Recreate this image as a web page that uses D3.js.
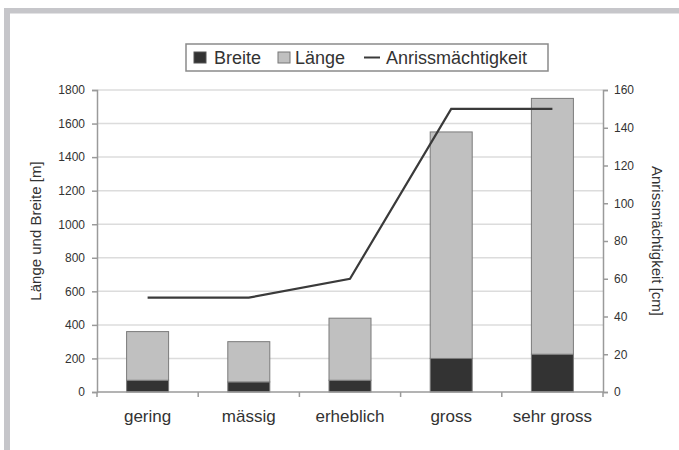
<!DOCTYPE html>
<html>
<head>
<meta charset="utf-8">
<script src="https://cdn.jsdelivr.net/npm/d3@7"></script>
<style>
  html, body { margin: 0; padding: 0; background: #fff; }
  svg { display: block; font-family: "Liberation Sans", Arial, sans-serif; }
</style>
</head>
<body>
<svg id="chart" width="679" height="450"></svg>
<script>
// Avalanche size classes
const categories = ["gering", "mässig", "erheblich", "gross", "sehr gross"];
// Stacked columns [m]: width at the bottom, length on top
const breite = [70, 60, 70, 200, 225];
const laenge = [290, 240, 370, 1350, 1525];
// Fracture depth [cm] on the right axis
const anriss = [50, 50, 60, 150, 150];
const leftTicks = [0, 200, 400, 600, 800, 1000, 1200, 1400, 1600, 1800];
const rightTicks = [0, 20, 40, 60, 80, 100, 120, 140, 160];

const svg = d3.select("#chart");
const plotLeft = 97, plotRight = 603, plotTop = 90, plotBottom = 392;

// frame along the top and left edge
svg.append("rect").attr("x", 4).attr("y", 8).attr("width", 675).attr("height", 5.5).attr("fill", "#c6c6ca");
svg.append("rect").attr("x", 4).attr("y", 8).attr("width", 6).attr("height", 442).attr("fill", "#c6c6ca");

const x = d3.scaleBand().domain(categories).range([plotLeft, plotRight]);
const yL = d3.scaleLinear().domain([0, 1800]).range([plotBottom, plotTop]);
const yR = d3.scaleLinear().domain([0, 160]).range([plotBottom, plotTop]);

// horizontal gridlines
svg.append("g").selectAll("line").data(leftTicks.slice(1)).join("line")
  .attr("x1", plotLeft).attr("x2", plotRight)
  .attr("y1", d => yL(d)).attr("y2", d => yL(d))
  .attr("stroke", "#dcdcdc").attr("stroke-width", 1.5);

// stacked columns
const barW = 42;
const stack = d3.stack().keys(["breite", "laenge"])(
  categories.map((c, i) => ({ cat: c, breite: breite[i], laenge: laenge[i] })));
const fills = { breite: "#333333", laenge: "#c0c0c0" };
stack.forEach(layer => {
  svg.append("g").selectAll("rect").data(layer).join("rect")
    .attr("x", d => x(d.data.cat) + x.bandwidth() / 2 - barW / 2)
    .attr("width", barW)
    .attr("y", d => yL(d[1]))
    .attr("height", d => yL(d[0]) - yL(d[1]))
    .attr("fill", fills[layer.key])
    .attr("stroke", "#7a7a7a").attr("stroke-width", 1);
});

// left axis
const axL = svg.append("g").attr("transform", `translate(${plotLeft},0)`)
  .call(d3.axisLeft(yL).tickValues(leftTicks).tickFormat(d3.format("d")).tickSize(5).tickPadding(7));
// right axis
const axR = svg.append("g").attr("transform", `translate(${plotRight},0)`)
  .call(d3.axisRight(yR).tickValues(rightTicks).tickFormat(d3.format("d")).tickSize(5).tickPadding(6));
[axL, axR].forEach(a => {
  a.select(".domain").attr("stroke", "#9a9a9a").attr("stroke-width", 1.5);
  a.selectAll(".tick line").attr("stroke", "#9a9a9a").attr("stroke-width", 1.5);
  a.selectAll("text").attr("font-size", 12).attr("fill", "#333")
    .attr("font-family", "'Liberation Sans', Arial, sans-serif");
});

// category axis with ticks between the columns
const xAxis = svg.append("g");
xAxis.append("line").attr("x1", plotLeft).attr("x2", plotRight).attr("y1", plotBottom).attr("y2", plotBottom)
  .attr("stroke", "#9a9a9a").attr("stroke-width", 1.5);
xAxis.selectAll("line.sep").data(d3.range(categories.length + 1)).join("line")
  .attr("class", "sep")
  .attr("x1", i => plotLeft + i * x.step()).attr("x2", i => plotLeft + i * x.step())
  .attr("y1", plotBottom).attr("y2", plotBottom + 5)
  .attr("stroke", "#9a9a9a").attr("stroke-width", 1.5);
xAxis.selectAll("text").data(categories).join("text")
  .attr("x", d => x(d) + x.bandwidth() / 2).attr("y", 422)
  .attr("text-anchor", "middle").attr("font-size", 17).attr("fill", "#333")
  .text(d => d);

// fracture depth line
const line = d3.line()
  .x((d, i) => x(categories[i]) + x.bandwidth() / 2)
  .y(d => yR(d));
svg.append("path").datum(anriss).attr("d", line)
  .attr("fill", "none").attr("stroke", "#3a3a3a").attr("stroke-width", 2.2);

// axis titles
svg.append("text").attr("transform", "translate(41,231) rotate(-90)")
  .attr("text-anchor", "middle").attr("font-size", 15).attr("fill", "#333")
  .text("Länge und Breite [m]");
svg.append("text").attr("transform", "translate(652,241) rotate(90)")
  .attr("text-anchor", "middle").attr("font-size", 15).attr("fill", "#333")
  .text("Anrissmächtigkeit [cm]");

// legend
const lg = svg.append("g");
lg.append("rect").attr("x", 186).attr("y", 44).attr("width", 362).attr("height", 27)
  .attr("fill", "#fff").attr("stroke", "#8a8a8a").attr("stroke-width", 1.5);
lg.append("rect").attr("x", 194).attr("y", 52).attr("width", 12).attr("height", 11)
  .attr("fill", fills.breite).attr("stroke", "#555");
lg.append("text").attr("x", 214).attr("y", 64).attr("font-size", 18).attr("fill", "#333").text("Breite");
lg.append("rect").attr("x", 278).attr("y", 52).attr("width", 12).attr("height", 11)
  .attr("fill", fills.laenge).attr("stroke", "#777");
lg.append("text").attr("x", 295).attr("y", 64).attr("font-size", 18).attr("fill", "#333").text("Länge");
lg.append("line").attr("x1", 364).attr("x2", 380).attr("y1", 57.5).attr("y2", 57.5)
  .attr("stroke", "#3a3a3a").attr("stroke-width", 2);
lg.append("text").attr("x", 386).attr("y", 64).attr("font-size", 18).attr("fill", "#333").text("Anrissmächtigkeit");
</script>
</body>
</html>
